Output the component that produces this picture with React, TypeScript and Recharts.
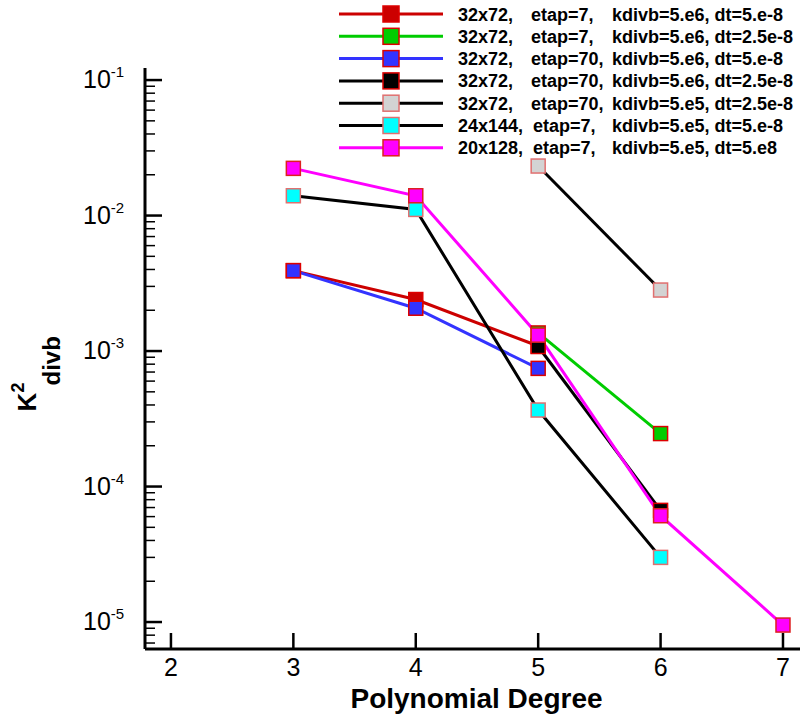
import React from "react";
import { LineChart, Line, XAxis, YAxis, Label } from "recharts";

// polynomial degree (x) and the k_divb^2 values
const degrees = [3, 4, 5, 6, 7];

const red = [3.92e-3, 2.4e-3, 1.09e-3, null, null];
const green = [null, null, 1.36e-3, 2.46e-4, null];
const blue = [3.92e-3, 2.07e-3, 7.45e-4, null, null];
const black = [null, null, 1.08e-3, 6.67e-5, null];
const gray = [null, null, 2.32e-2, 2.82e-3, null];
const cyan = [1.4e-2, 1.11e-2, 3.67e-4, 3.0e-5, null];
const magenta = [2.23e-2, 1.4e-2, 1.31e-3, 6.09e-5, 9.5e-6];

const gridNames = ["32x72,", "32x72,", "32x72,", "32x72,", "32x72,", "24x144,", "20x128,"];
const etapNames = ["etap=7,", "etap=7,", "etap=70,", "etap=70,", "etap=70,", "etap=7,", "etap=7,"];
const restNames = [
  "kdivb=5.e6, dt=5.e-8",
  "kdivb=5.e6, dt=2.5e-8",
  "kdivb=5.e6, dt=5.e-8",
  "kdivb=5.e6, dt=2.5e-8",
  "kdivb=5.e5, dt=2.5e-8",
  "kdivb=5.e5, dt=5.e-8",
  "kdivb=5.e5, dt=5.e8",
];

const xTicks = [2, 3, 4, 5, 6, 7];
const yDecades = [-5, -4, -3, -2, -1];

const X_DOMAIN = [1.788, 7.139];
const Y_MIN = Math.pow(10, -5.199);
const Y_MAX = Math.pow(10, -0.911);

const FONT = "'Liberation Sans', Arial, Helvetica, sans-serif";

// series styling: line colour, marker fill, marker border
const seriesStyle = [
  { key: "s1", line: "#cc0000", fill: "#cc0000", edge: "#dd0000", values: red },
  { key: "s2", line: "#00cc00", fill: "#00cc00", edge: "#dd0000", values: green },
  { key: "s3", line: "#3333ff", fill: "#3333ff", edge: "#dd0000", values: blue },
  { key: "s4", line: "#000000", fill: "#000000", edge: "#dd0000", values: black },
  { key: "s5", line: "#000000", fill: "#d3d3d3", edge: "#e07070", values: gray },
  { key: "s6", line: "#000000", fill: "#00ffff", edge: "#e07070", values: cyan },
  { key: "s7", line: "#ff00ff", fill: "#ff00ff", edge: "#dd2020", values: magenta },
];

const chartData = degrees.map((d, i) => {
  const row: any = { degree: d };
  seriesStyle.forEach((s) => {
    row[s.key] = s.values[i];
  });
  return row;
});

// log ticks: decades plus 2..9 minors inside the domain
const yTicks: number[] = [];
for (let k = -6; k <= -1; k++) {
  for (let m = 1; m <= 9; m++) {
    const v = m * Math.pow(10, k);
    if (v >= Y_MIN && v <= Y_MAX) yTicks.push(v);
  }
}

function YTick(props: any) {
  const { x, y, payload } = props;
  const lg = Math.log10(payload.value);
  const exp = Math.round(lg);
  const major = Math.abs(lg - exp) < 1e-6 && yDecades.includes(exp);
  if (!major) {
    return <line x1={x} x2={x + 10} y1={y} y2={y} stroke="#000" strokeWidth={1.5} />;
  }
  return (
    <g>
      <line x1={x} x2={x + 17} y1={y} y2={y} stroke="#000" strokeWidth={2.5} />
      <text x={x - 62} y={y + 8} fontSize={25} fontFamily={FONT} fill="#000">
        10
        <tspan dy={-11} fontSize={15}>{exp}</tspan>
      </text>
    </g>
  );
}

function XTick(props: any) {
  const { x, y, payload } = props;
  return (
    <g>
      <line x1={x} x2={x} y1={y} y2={y - 16} stroke="#000" strokeWidth={2.5} />
      <text x={x} y={y + 27} fontSize={25} fontFamily={FONT} textAnchor="middle" fill="#000">
        {payload.value}
      </text>
    </g>
  );
}

function XTitle(props: any) {
  const vb = props.viewBox;
  return (
    <text
      x={vb.x + vb.width / 2 + 4}
      y={vb.y + 59}
      fontSize={28}
      fontWeight="bold"
      fontFamily={FONT}
      textAnchor="middle"
      fill="#000"
    >
      Polynomial Degree
    </text>
  );
}

function YTitle(props: any) {
  const vb = props.viewBox;
  const cy = vb.y + vb.height / 2;
  return (
    <g transform={`translate(36, ${cy + 53}) rotate(-90)`} fontFamily={FONT} fontWeight="bold" fill="#000">
      <text x={0} y={0} fontSize={26}>K</text>
      <text x={19} y={-12} fontSize={18}>2</text>
      <text x={26} y={24} fontSize={24}>divb</text>
    </g>
  );
}

function makeDot(fill: string, edge: string) {
  return (p: any) => {
    const k = `${p.dataKey}-${p.index}`;
    if (p.cx == null || p.cy == null || p.value == null) return <g key={k} />;
    return (
      <rect key={k} x={p.cx - 7} y={p.cy - 7} width={14} height={14} fill={fill} stroke={edge} strokeWidth={1.5} />
    );
  };
}

function CustomLegend() {
  const rowY = (i: number) => 14 + i * 22.3;
  return (
    <svg width={471} height={160} style={{ position: "absolute", left: 330, top: 0 }}>
      {seriesStyle.map((s, i) => (
        <g key={s.key}>
          <line x1={9} x2={113} y1={rowY(i)} y2={rowY(i)} stroke={s.line} strokeWidth={3} />
          <rect x={53} y={rowY(i) - 8} width={16} height={16} fill={s.fill} stroke={s.edge} strokeWidth={1.5} />
          <g fontFamily={FONT} fontWeight="bold" fontSize={18} fill="#000">
            <text x={128} y={rowY(i) + 6.5}>{gridNames[i]}</text>
            <text x={i === 5 || i === 6 ? 203 : 201} y={rowY(i) + 6.5}>{etapNames[i]}</text>
            <text x={282} y={rowY(i) + 6.5}>{restNames[i]}</text>
          </g>
        </g>
      ))}
    </svg>
  );
}

export default function App() {
  return (
    <div style={{ position: "absolute", left: 0, top: 0, width: 801, height: 717, background: "#fff" }}>
      <LineChart width={801} height={717} data={chartData} margin={{ top: 68, right: 1, bottom: 0, left: 0 }}>
        <XAxis
          dataKey="degree"
          type="number"
          domain={X_DOMAIN}
          ticks={xTicks}
          interval={0}
          allowDataOverflow
          height={68}
          tickSize={0}
          tickMargin={0}
          tickLine={false}
          axisLine={{ stroke: "#000", strokeWidth: 3 }}
          tick={<XTick />}
        >
          <Label content={<XTitle />} />
        </XAxis>
        <YAxis
          type="number"
          scale="log"
          domain={[Y_MIN, Y_MAX]}
          ticks={yTicks}
          interval={0}
          allowDataOverflow
          width={145}
          tickSize={0}
          tickMargin={0}
          tickLine={false}
          axisLine={{ stroke: "#000", strokeWidth: 3 }}
          tick={<YTick />}
        >
          <Label content={<YTitle />} />
        </YAxis>
        {seriesStyle.map((s, i) => (
          <Line
            key={s.key}
            dataKey={s.key}
            name={`${gridNames[i]} ${etapNames[i]} ${restNames[i]}`}
            type="linear"
            stroke={s.line}
            strokeWidth={3}
            connectNulls={false}
            dot={makeDot(s.fill, s.edge)}
            activeDot={false}
            isAnimationActive={false}
          />
        ))}
      </LineChart>
      <CustomLegend />
    </div>
  );
}
